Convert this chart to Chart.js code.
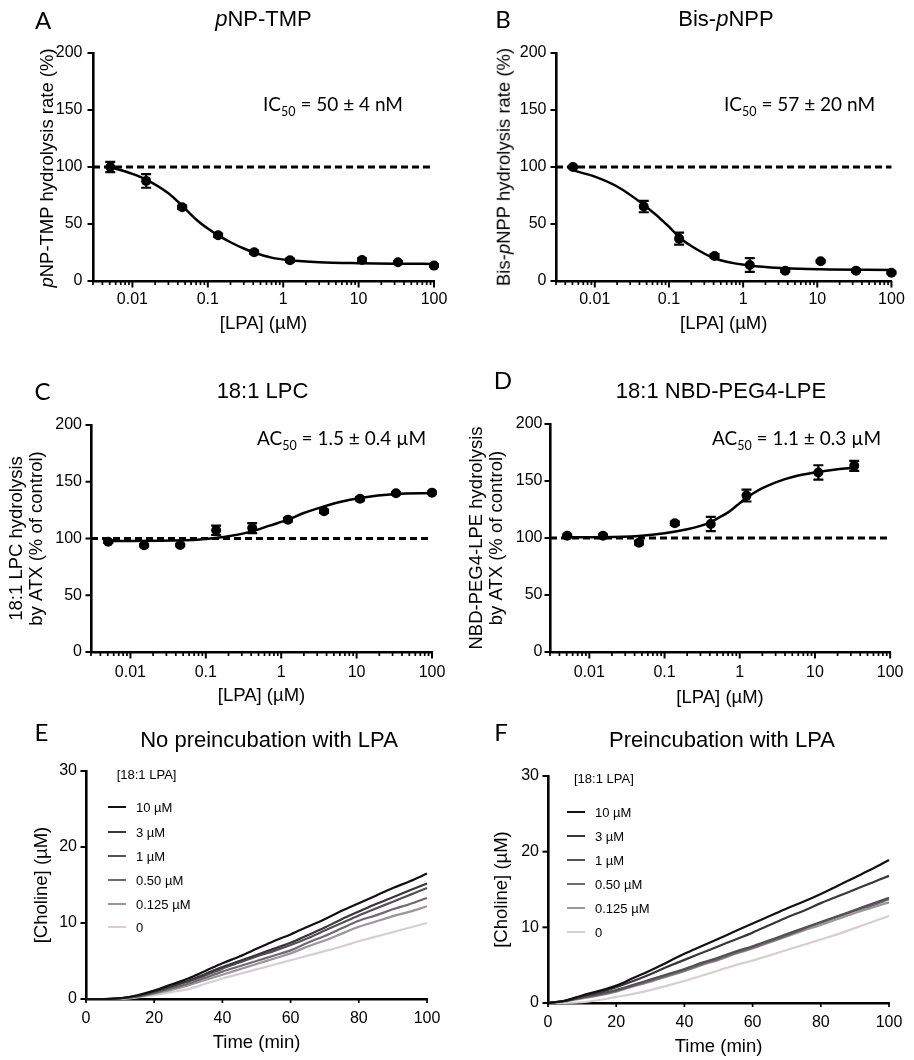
<!DOCTYPE html>
<html><head><meta charset="utf-8">
<script src="https://cdn.jsdelivr.net/npm/chart.js@4.4.0/dist/chart.umd.min.js"></script>
<style>
body{margin:0;background:#fff;}
#fig{position:relative;width:914px;height:1060px;overflow:hidden;background:#fff;font-family:'Liberation Sans',Arial,sans-serif;color:#000;}
canvas{position:absolute;}
.c{position:absolute;white-space:nowrap;transform:translate(-50%,-50%);line-height:1;}
.letter{font-family:Lato,sans-serif;font-size:24px;}
.title{font-size:22px;}
.ann{position:absolute;white-space:nowrap;font-family:Lato,sans-serif;font-size:19px;transform:translateY(-50%);line-height:1;}
.ann .s{font-size:12.5px;position:relative;top:5px;}
.yt{position:absolute;white-space:nowrap;font-size:18.5px;line-height:1;transform:translate(-50%,-50%) rotate(-90deg);}
.lg{position:absolute;white-space:nowrap;font-size:13px;line-height:1;transform:translateY(-50%);}
.sw{position:absolute;height:2px;}
</style></head>
<body><div id="fig"></div>
<script>
// ---------------- DATA ----------------
// LPA concentrations (µM), 3-fold dilutions
const concAll = [0.00508, 0.0152, 0.0457, 0.137, 0.412, 1.23, 3.70, 11.1, 33.3, 100];

// Panel A: pNP-TMP
const concA = [0.00508, 0.0152, 0.0457, 0.137, 0.412, 1.23, 11.1, 33.3, 100];
const meanA = [100, 87.8, 64.7, 40.1, 25.2, 18.2, 18.4, 16.4, 13.5];
const errA  = [4.5, 6, 1.5, 1.5, 1.5, 1.5, 1.5, 1, 1];
const curveAx = [0.00508, 0.01, 0.0152, 0.03, 0.0457, 0.07, 0.1, 0.137, 0.2, 0.3, 0.412, 0.7, 1.23, 3, 10, 30, 100];
const curveAy = [100, 94, 89, 77, 66, 54, 46, 40, 34, 28.5, 25, 20.5, 18.2, 16.5, 15.6, 15.2, 15];

// Panel B: Bis-pNPP
const concB = [0.00508, 0.0457, 0.137, 0.412, 1.23, 3.70, 11.1, 33.3, 100];
const meanB = [100, 65.3, 37.2, 22, 14, 9, 17.3, 9, 7.3];
const errB  = [1, 5, 5.3, 1.5, 6, 1, 1, 1, 1];
const curveBx = [0.00508, 0.01, 0.02, 0.0457, 0.1, 0.137, 0.2, 0.412, 1.23, 3.7, 11.1, 100];
const curveBy = [97, 91.6, 82.9, 66.8, 47.7, 38.4, 30.7, 19.9, 13.5, 11.1, 10.2, 9.7];

// Panel C: 18:1 LPC
const concC = concAll;
const meanC = [97.2, 94, 94.3, 107.2, 109.2, 116.6, 124, 135, 139.8, 140.4];
const errC  = [1, 1, 1, 4.1, 4.4, 1.5, 1.5, 1.5, 1, 1];
const curveCx = [0.00508, 0.05, 0.1, 0.2, 0.412, 0.7, 1.23, 2, 3.7, 6, 11.1, 33.3, 100];
const curveCy = [97.8, 98.4, 99.6, 101.9, 106.3, 111.3, 116.6, 122.5, 128.3, 132.2, 135.7, 139.2, 140];

// Panel D: 18:1 NBD-PEG4-LPE
const concD = [0.00508, 0.0152, 0.0457, 0.137, 0.412, 1.23, 11.1, 33.3];
const meanD = [102, 102, 95.9, 112.9, 112.3, 137.2, 157.5, 163.3];
const errD  = [1, 1, 1.5, 1.5, 6.2, 5.2, 6.3, 4.4];
const curveDx = [0.00508, 0.0152, 0.0457, 0.1, 0.2, 0.3, 0.412, 0.5, 0.7, 0.85, 1.0, 1.23, 1.5, 2, 2.5, 4, 6, 11.1, 20, 33.3];
const curveDy = [100.6, 100.7, 101.8, 104.1, 107.6, 110.6, 114.0, 117.0, 122.5, 126.8, 130.6, 135.2, 139.0, 143.7, 146.6, 151.6, 154.8, 158.0, 160.3, 161.5];

const controlLevel = 100;
const logTickValues = [0.01, 0.1, 1, 10, 100];
const logTickLabels = ['0.01', '0.1', '1', '10', '100'];

// Panels E/F: choline release time courses
const timeMin = [0,5,10,15,20,25,30,35,40,45,50,55,60,65,70,75,80,85,90,95,100];
const lpaLabels = ['10 µM', '3 µM', '1 µM', '0.50 µM', '0.125 µM', '0'];
const lpaColors = ['#111111', '#383838', '#555055', '#6f6a6e', '#9a969a', '#d4d0d0'];
const e10   = [0,0,0.1,0.5,1.1,1.9,2.7,3.7,4.7,5.6,6.6,7.6,8.5,9.5,10.5,11.6,12.6,13.6,14.6,15.5,16.5];
const e3    = [0,0,0.1,0.4,1.0,1.7,2.4,3.3,4.2,5.0,5.8,6.6,7.4,8.4,9.4,10.5,11.5,12.5,13.4,14.3,15.2];
const e1    = [0,0,0.1,0.4,0.9,1.6,2.3,3.1,4.0,4.8,5.6,6.3,7.1,8.0,9.0,10.0,11.0,11.9,12.8,13.7,14.6];
const e05   = [0,0,0.1,0.3,0.8,1.4,2.0,2.8,3.6,4.3,5.0,5.7,6.4,7.4,8.3,9.3,10.3,11.0,11.8,12.5,13.3];
const e0125 = [0,0,0.05,0.3,0.7,1.2,1.8,2.5,3.2,3.9,4.6,5.3,6.0,6.9,7.7,8.6,9.5,10.2,10.9,11.5,12.2];
const e0    = [0,0,0,0.2,0.5,0.9,1.3,2.0,2.7,3.3,3.9,4.5,5.1,5.7,6.3,6.9,7.6,8.2,8.8,9.4,10.0];
const f10   = [0,0.3,1.0,1.6,2.3,3.3,4.3,5.4,6.5,7.5,8.5,9.5,10.5,11.5,12.5,13.4,14.4,15.5,16.6,17.7,18.9];
const f3    = [0,0.3,0.9,1.4,2.1,2.9,3.8,4.8,5.7,6.6,7.5,8.4,9.3,10.3,11.3,12.2,13.2,14.1,15.0,15.9,16.8];
const f1    = [0,0.3,0.7,1.2,1.7,2.4,3.1,3.8,4.5,5.3,6.0,6.8,7.5,8.3,9.1,9.9,10.7,11.5,12.3,13.1,13.9];
const f05   = [0,0.3,0.7,1.1,1.6,2.3,2.9,3.6,4.3,5.1,5.8,6.6,7.3,8.1,8.9,9.8,10.6,11.4,12.2,12.9,13.7];
const f0125 = [0,0.2,0.6,1.0,1.5,2.2,2.8,3.5,4.2,5.0,5.7,6.5,7.2,8.0,8.8,9.6,10.3,11.1,11.9,12.6,13.3];
const f0    = [0,0,0.1,0.4,0.8,1.2,1.7,2.3,2.9,3.6,4.3,5.0,5.6,6.3,7.0,7.7,8.4,9.1,9.9,10.7,11.5];

// ---------------- LAYOUT (pixel geometry) ----------------
const geom = {
  A:{cx:0,cy:30,cw:457,ch:312,l:93,t:53,r:434,b:281,ypad:10.5,xpad:9.2,xtpb:6.9},
  B:{cx:457,cy:30,cw:457,ch:312,l:556,t:53,r:897,b:281,ypad:9.5,xpad:9.2,xtpb:6.9},
  C:{cx:0,cy:395,cw:457,ch:320,l:91,t:425,r:432,b:652,ypad:9,xpad:10.5,xtpb:7.9,ytpt:7},
  D:{cx:457,cy:395,cw:457,ch:320,l:550,t:424,r:891,b:652,ypad:7.5,xpad:10.5,xtpb:5.9,ytpt:9.8},
  E:{cx:0,cy:745,cw:457,ch:315,l:86,t:771,r:427,b:999,ypad:9,xpad:10,xtpb:5.9,ytpt:30.9},
  F:{cx:457,cy:745,cw:457,ch:315,l:548,t:776,r:889,b:1003,ypad:9,xpad:10.4,xtpb:1.9,ytpt:33.9}
};

Chart.defaults.font.family = "'Liberation Sans', Arial, sans-serif";
Chart.defaults.color = '#000';
const fig = document.getElementById('fig');

const tickMarks = {
  id:'tickMarks',
  afterDraw(chart){
    const {ctx, scales:{x,y}, chartArea:a} = chart;
    ctx.save(); ctx.strokeStyle='#000'; ctx.lineCap='butt';
    ctx.lineWidth=2;
    y.ticks.forEach(t=>{const p=y.getPixelForValue(t.value); ctx.beginPath(); ctx.moveTo(a.left-5.5,p); ctx.lineTo(a.left,p); ctx.stroke();});
    x.ticks.forEach(t=>{const p=x.getPixelForValue(t.value); const len=t.major?6.5:4; ctx.lineWidth=t.major?2:1.7; ctx.beginPath(); ctx.moveTo(p,a.bottom); ctx.lineTo(p,a.bottom+len); ctx.stroke();});
    ctx.restore();
  }
};
const errBars = {
  id:'errBars',
  afterDatasetsDraw(chart){
    const {ctx, scales:{x,y}} = chart;
    ctx.save(); ctx.strokeStyle='#000'; ctx.lineWidth=2.2;
    chart.data.datasets.forEach(ds=>{
      if(!ds.errors) return;
      ds.data.forEach((pt,i)=>{
        const e=ds.errors[i]; const px=x.getPixelForValue(pt.x);
        const p1=y.getPixelForValue(pt.y+e), p2=y.getPixelForValue(pt.y-e);
        ctx.beginPath(); ctx.moveTo(px,p1); ctx.lineTo(px,p2);
        ctx.moveTo(px-5,p1); ctx.lineTo(px+5,p1); ctx.moveTo(px-5,p2); ctx.lineTo(px+5,p2); ctx.stroke();
      });
    });
    ctx.restore();
  }
};

function makeCanvas(g){
  const c=document.createElement('canvas');
  c.width=g.cw; c.height=g.ch;
  c.style.left=g.cx+'px'; c.style.top=g.cy+'px'; c.style.width=g.cw+'px'; c.style.height=g.ch+'px';
  fig.appendChild(c); return c;
}
function pts(xs,ys){return xs.map((v,i)=>({x:v,y:ys[i]}));}

function baseScales(g, xCfg, yCfg){
  return {
    x: Object.assign({
      position:'bottom',
      grid:{display:false, drawTicks:false},
      border:{display:true,color:'#000',width:2.6},
      ticks:{font:{size:16},padding:g.xpad,maxRotation:0,minRotation:0,autoSkip:false,color:'#000'},
      title:{display:true,font:{size:18.5,lineHeight:1.2},padding:{top:0,bottom:g.xtpb},color:'#000'},
      afterFit(s){s.height=(g.cy+g.ch)-g.b;}
    }, xCfg),
    y: Object.assign({
      position:'left',
      grid:{display:false, drawTicks:false},
      border:{display:true,color:'#000',width:2.6},
      ticks:{font:{size:16},padding:g.ypad,color:'#000'},
      afterFit(s){s.width=g.l-g.cx;}
    }, yCfg)
  };
}

function doseChart(key, cx, cy, ce, kx, ky, yTitle){
  const g=geom[key];
  const c=makeCanvas(g);
  const sc=baseScales(g,{
    type:'logarithmic', min:0.003, max:100,
    afterBuildTicks(s){
      const t=[];
      for(let e=-3;e<=2;e++){for(let m=1;m<=9;m++){const v=m*Math.pow(10,e); if(v>=0.003*0.999&&v<=100*1.001) t.push({value:v,major:m===1});}}
      s.ticks=t;
    },
  },{type:'linear',min:0,max:200});
  sc.x.ticks.callback=(v)=>{const i=logTickValues.findIndex(d=>Math.abs(d-v)/d<1e-6); return i>=0?logTickLabels[i]:'';};
  sc.x.title.text='[LPA] (µM)';
  sc.y.ticks.stepSize=50;
  if(yTitle){
    sc.y.title={display:true,text:yTitle,font:{size:18.5,lineHeight:1.08},padding:{top:g.ytpt,bottom:0},color:'#000'};
  }
  new Chart(c,{
    type:'scatter',
    data:{datasets:[
      {data:pts(cx,cy),errors:ce,pointRadius:5,pointBackgroundColor:'#000',pointBorderWidth:0,clip:false,showLine:false},
      {data:pts(kx,ky),showLine:true,pointRadius:0,borderColor:'#000',borderWidth:2.5,cubicInterpolationMode:'monotone',clip:false},
      {data:[{x:0.003,y:controlLevel},{x:100,y:controlLevel}],showLine:true,pointRadius:0,borderColor:'#000',borderWidth:3,borderDash:[7,4],clip:false}
    ]},
    options:{responsive:false,animation:false,devicePixelRatio:1,
      layout:{padding:{left:0,top:g.t-g.cy,right:(g.cx+g.cw)-g.r,bottom:0}},
      plugins:{legend:{display:false},tooltip:{enabled:false}},
      scales:sc},
    plugins:[tickMarks,errBars]
  });
}

function timeChart(key, series){
  const g=geom[key];
  const c=makeCanvas(g);
  const sc=baseScales(g,{type:'linear',min:0,max:100},{type:'linear',min:0,max:30});
  sc.x.ticks.stepSize=20; sc.x.title.text='Time (min)';
  sc.y.ticks.stepSize=10;
  sc.y.title={display:true,text:'[Choline] (µM)',font:{size:18.5,lineHeight:1.2},padding:{top:g.ytpt,bottom:0},color:'#000'};
  new Chart(c,{
    type:'scatter',
    data:{datasets:series.map((s,i)=>({label:lpaLabels[i],data:pts(timeMin,s),showLine:true,pointRadius:0,borderColor:lpaColors[i],borderWidth:2.2,cubicInterpolationMode:'monotone',clip:false}))},
    options:{responsive:false,animation:false,devicePixelRatio:1,
      layout:{padding:{left:0,top:g.t-g.cy,right:(g.cx+g.cw)-g.r,bottom:0}},
      plugins:{legend:{display:false},tooltip:{enabled:false}},
      scales:sc},
    plugins:[tickMarks]
  });
}

doseChart('A',concA,meanA,errA,curveAx,curveAy,null);
doseChart('B',concB,meanB,errB,curveBx,curveBy,null);
doseChart('C',concC,meanC,errC,curveCx,curveCy,['18:1 LPC hydrolysis','by ATX (% of control)']);
doseChart('D',concD,meanD,errD,curveDx,curveDy,['NBD-PEG4-LPE hydrolysis','by ATX (% of control)']);
timeChart('E',[e10,e3,e1,e05,e0125,e0]);
timeChart('F',[f10,f3,f1,f05,f0125,f0]);

// ---------------- TEXT OVERLAYS ----------------
function add(cls,html,x,y){const d=document.createElement('div');d.className=cls;d.innerHTML=html;d.style.left=x+'px';d.style.top=y+'px';fig.appendChild(d);return d;}
[['A',43,19.5],['B',503,19],['C',42.5,391],['D',503,380],['E',41.5,732],['F',501,732]].forEach(p=>add('c letter',p[0],p[1],p[2]));
add('c title','<i>p</i>NP-TMP',263.5,18.5);
add('c title','Bis-<i>p</i>NPP',726,18.5);
add('c title','18:1 LPC',262.5,391);
add('c title','18:1 NBD-PEG4-LPE',721,391);
add('c title','No preincubation with LPA',269,740);
add('c title','Preincubation with LPA',722,740);
add('ann','IC<span class="s">50</span> = 50 ± 4 nM',263,103.5);
add('ann','IC<span class="s">50</span> = 57 ± 20 nM',724,103.5);
add('ann','AC<span class="s">50</span> = 1.5 ± 0.4 µM',257,437.5);
add('ann','AC<span class="s">50</span> = 1.1 ± 0.3 µM',712,438);
add('yt','<i>p</i>NP-TMP hydrolysis rate (%)',47,167.5);
add('yt','Bis-<i>p</i>NPP hydrolysis rate (%)',504,167);

// legends for E and F
const legGeom = {E:{hx:116.7,hy:774,sx:108,sw:18,tx:136,rows:[807,832,856,880,904,927]},
                 F:{hx:574,hy:778,sx:567,sw:18,tx:595,rows:[812,836,860,884,908,932]}};
Object.values(legGeom).forEach(L=>{
  add('lg','[18:1 LPA]',L.hx,L.hy);
  lpaLabels.forEach((lab,i)=>{
    const s=document.createElement('div'); s.className='sw'; s.style.left=L.sx+'px'; s.style.top=(L.rows[i]-1)+'px'; s.style.width=L.sw+'px'; s.style.background=lpaColors[i]; fig.appendChild(s);
    add('lg',lab,L.tx,L.rows[i]);
  });
});
</script>
</body></html>
